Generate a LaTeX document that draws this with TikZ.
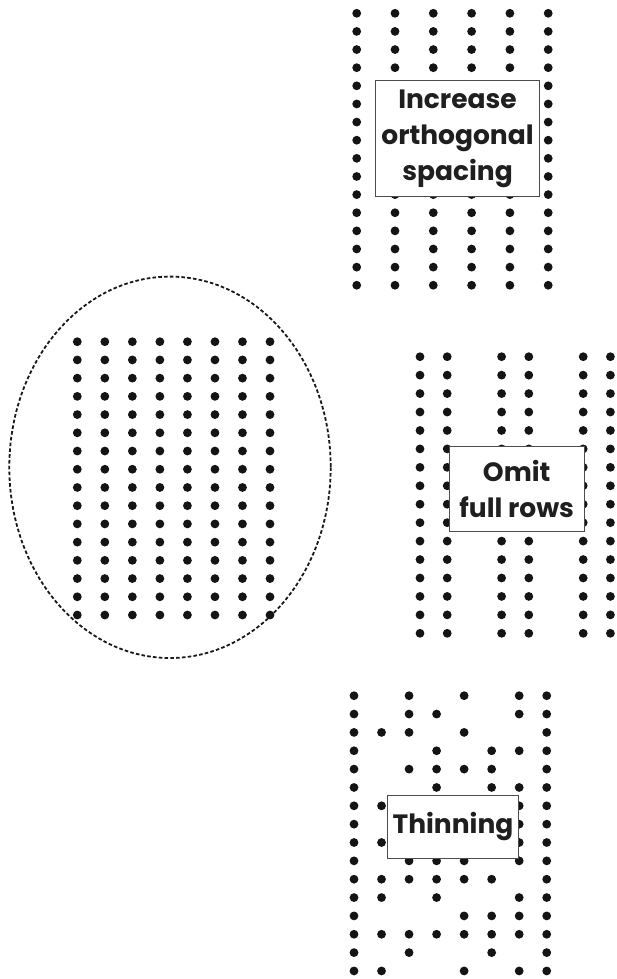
\documentclass[tikz,border=0pt]{standalone}
\usepackage{fontspec}
\setmainfont{Poppins}
\begin{document}
\begin{tikzpicture}[x=1pt,y=-1pt,
  dot/.style={fill=black!92},
  label/.style={draw=black!70,line width=1pt,fill=white,inner sep=0pt,align=center,
    font=\fontsize{26.5}{36}\selectfont\bfseries,text=black!88},
  hull/.style={draw=black!90,line width=1.8pt,dash pattern=on 3.6pt off 2.2pt}]
\useasboundingbox (0,0) rectangle (616,979);
% top grid
\foreach \k in {0,...,5}{\foreach \j in {0,...,15}{
  \fill[dot] (356.7+38.3*\k,13.3+18.13*\j) circle (4.4);}}
% left grid
\foreach \k in {0,...,7}{\foreach \j in {0,...,15}{
  \fill[dot] (77.3+27.53*\k,341.7+18.22*\j) circle (4.4);}}
\draw[hull] (170,467.3) ellipse (160.7 and 190.7);
% middle grid (omit full rows)
\foreach \k in {0,1,3,4,6,7}{\foreach \j in {0,...,15}{
  \fill[dot] (420+27.2*\k,356.7+18.44*\j) circle (4.4);}}
% thinning grid
\foreach \j/\cols in {0/{0,2,4,6,7},1/{0,2,3,6,7},2/{0,1,2,4,7},3/{0,3,5,6,7},
  4/{0,2,3,4,5,7},5/{0,3,5,6,7},6/{0,1,3,6,7},7/{0,4,6,7},8/{0,1,2,6,7},
  9/{0,2,3,4,6,7},10/{0,1,2,3,4,5,7},11/{0,1,3,6,7},12/{0,4,5,6,7},
  13/{0,1,2,3,4,5,6,7},14/{0,2,5,7},15/{0,1,4,6,7}}{
  \foreach \k in \cols {\fill[dot] (354+27.53*\k,695.7+18.35*\j) circle (4.4);}}
% labels
\node[label,minimum width=163.6pt,minimum height=116pt] (inc) at (457.5,138.7)
  {Increase\\orthogonal\\spacing};
\node[label,minimum width=134.7pt,minimum height=85pt] (omit) at (516.7,489.2)
  {Omit\\full rows};
\node[label,minimum width=130.6pt,minimum height=63.3pt] (thin) at (453,826.7)
  {Thinning};
\end{tikzpicture}
\end{document}
